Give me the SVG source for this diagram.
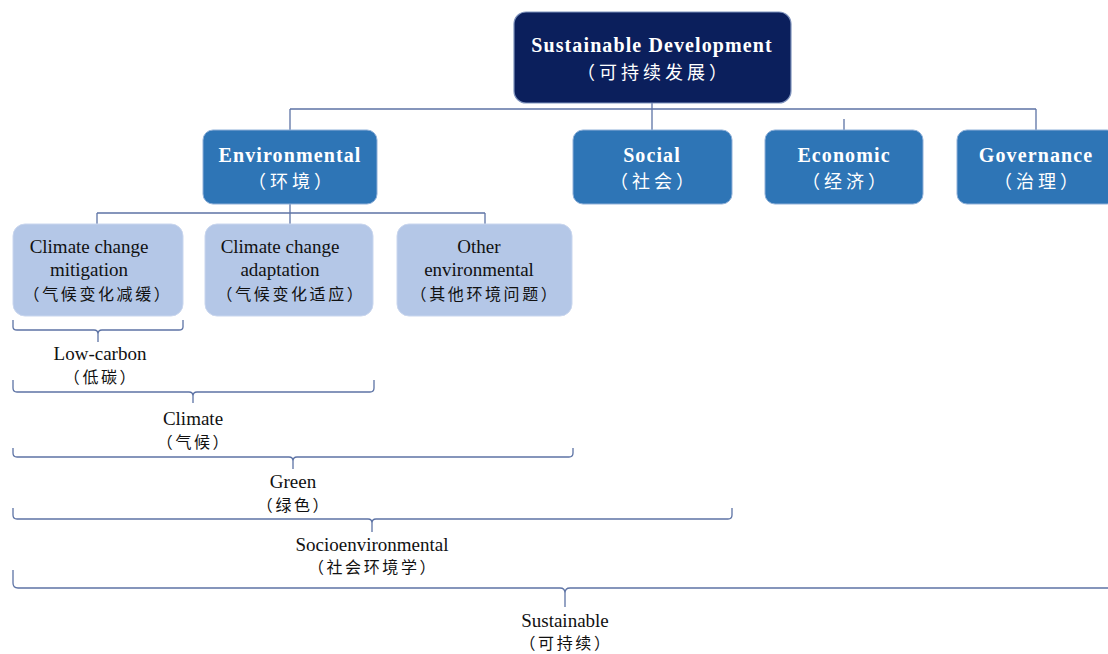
<svg xmlns="http://www.w3.org/2000/svg" width="1108" height="654" viewBox="0 0 1108 654">
<style>
.top{fill:#0b1f5c;stroke:#7f93bd;stroke-width:1.2}
.l2{fill:#2e75b6;stroke:#8fb0d8;stroke-width:1}
.l3{fill:#b4c7e7;stroke:#c9d6ee;stroke-width:1}
.ln{fill:none;stroke:#5d73a5;stroke-width:1.3}
.tw{font-family:"Liberation Serif","Noto Sans CJK SC",serif;font-weight:bold;fill:#fff;text-anchor:middle;letter-spacing:1.1px;font-size:20px}
.tc{font-family:"Liberation Serif","Noto Sans CJK SC",serif;fill:#fff;text-anchor:middle;font-size:18px;letter-spacing:4px}
.tb{font-family:"Liberation Serif","Noto Sans CJK SC",serif;fill:#111;text-anchor:middle;font-size:19px}
.tbc{font-family:"Liberation Serif","Noto Sans CJK SC",serif;fill:#111;text-anchor:middle;font-size:16px;letter-spacing:2.6px}
</style>
<rect width="1108" height="654" fill="#fff"/>
<g id="connectors">
<path class="ln" d="M652 103 V130 M290 109 H1036 M290 109 V130 M844 119 V130 M1036 109 V130"/>
<path class="ln" d="M290 204 V224 M97 213 H485 M97 213 V224 M485 213 V224"/>
<path class="ln" d="M13 320 V327 Q13 330 17 330 H94 Q98 330 98 334 V342 M98 334 Q98 330 102 330 H179 Q183 330 183 327 V320"/>
<path class="ln" d="M13 380 V388 Q13 392 17 392 H189 Q193 392 193 396 V403 M193 396 Q193 392 197 392 H370 Q374 392 374 388 V380"/>
<path class="ln" d="M13 448 V453 Q13 457 17 457 H289 Q293 457 293 461 V469 M293 461 Q293 457 297 457 H569 Q573 457 573 453 V448"/>
<path class="ln" d="M13 508 V515 Q13 519 17 519 H368 Q372 519 372 523 V532 M372 523 Q372 519 376 519 H728 Q732 519 732 515 V508"/>
<path class="ln" d="M13 570 V583 Q13 588 18 588 H560 Q565 588 565 593 V607 M565 593 Q565 588 570 588 H1112"/>
</g>
<g id="n-sd">
<rect class="top" x="514" y="12" width="277" height="91" rx="12"/>
<text class="tw" x="652" y="52">Sustainable Development</text>
<text class="tc" x="654" y="79">（可持续发展）</text>
</g>
<g id="n-env">
<rect class="l2" x="203" y="130" width="174" height="74" rx="10"/>
<text class="tw" x="290" y="162">Environmental</text>
<text class="tc" x="292" y="188">（环境）</text>
</g>
<g id="n-soc">
<rect class="l2" x="573" y="130" width="159" height="74" rx="10"/>
<text class="tw" x="652" y="162">Social</text>
<text class="tc" x="654" y="188">（社会）</text>
</g>
<g id="n-eco">
<rect class="l2" x="765" y="130" width="158" height="74" rx="10"/>
<text class="tw" x="844" y="162">Economic</text>
<text class="tc" x="846" y="188">（经济）</text>
</g>
<g id="n-gov">
<rect class="l2" x="957" y="130" width="160" height="74" rx="10"/>
<text class="tw" x="1036" y="162">Governance</text>
<text class="tc" x="1038" y="188">（治理）</text>
</g>
<g id="n-mit">
<rect class="l3" x="13" y="224" width="170" height="92" rx="12"/>
<text class="tb" x="89" y="253">Climate change</text>
<text class="tb" x="89" y="276">mitigation</text>
<text class="tbc" x="98" y="300">（气候变化减缓）</text>
</g>
<g id="n-ada">
<rect class="l3" x="205" y="224" width="168" height="92" rx="12"/>
<text class="tb" x="280" y="253">Climate change</text>
<text class="tb" x="280" y="276">adaptation</text>
<text class="tbc" x="291" y="300">（气候变化适应）</text>
</g>
<g id="n-oth">
<rect class="l3" x="397" y="224" width="175" height="92" rx="12"/>
<text class="tb" x="479" y="253">Other</text>
<text class="tb" x="479" y="276">environmental</text>
<text class="tbc" x="485" y="300">（其他环境问题）</text>
</g>
<g id="labels">
<text class="tb" x="100" y="360">Low-carbon</text>
<text class="tbc" x="101" y="383">（低碳）</text>
<text class="tb" x="193" y="425">Climate</text>
<text class="tbc" x="194" y="448">（气候）</text>
<text class="tb" x="293" y="488">Green</text>
<text class="tbc" x="294" y="511">（绿色）</text>
<text class="tb" x="372" y="551">Socioenvironmental</text>
<text class="tbc" x="373" y="573">（社会环境学）</text>
<text class="tb" x="565" y="627">Sustainable</text>
<text class="tbc" x="566" y="649">（可持续）</text>
</g>
</svg>
